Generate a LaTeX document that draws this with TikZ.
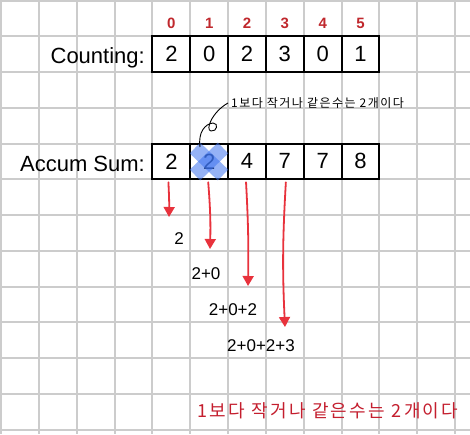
\documentclass[tikz,border=0pt]{standalone}
\usepackage{fontspec}
\setmainfont{Liberation Sans}
\newfontfamily\kor{Noto Sans CJK KR}
\usetikzlibrary{arrows.meta}
\definecolor{gridc}{HTML}{CCCCCC}
\definecolor{idxc}{HTML}{C0282D}
\definecolor{arrc}{HTML}{E8323C}
\definecolor{markc}{HTML}{3E74F0}
\definecolor{notec}{HTML}{C41E2E}
\def\cw{37.82}
\def\ch{35.75}
\def\xo{171.4}
\tikzset{
  cell/.style={draw,line width=2pt,minimum width=\cw pt,minimum height=\ch pt,
    inner sep=0pt,font=\fontsize{22}{26}\selectfont},
  rowlab/.style={anchor=base east,inner sep=0pt,font=\fontsize{22}{26}\selectfont},
  idx/.style={idxc,inner sep=0pt,font=\fontsize{15}{18}\selectfont\bfseries},
  sumtx/.style={inner sep=0pt,font=\fontsize{17}{20}\selectfont},
  redarr/.style={arrc,line width=1.8pt,line cap=round,-{Triangle[length=10pt,width=11pt]}},
}

\begin{document}
\begin{tikzpicture}[x=1pt,y=-1pt]
\useasboundingbox (0,0) rectangle (470,434);
\fill[white] (0,0) rectangle (470,434);

% ---------------------------------------------------------------- paper grid
\foreach \k in {0,...,12}
  {\draw[gridc,line width=2pt] ({1.2+\cw*\k},0) -- ({1.2+\cw*\k},434);}
\foreach \k in {0,...,12}
  {\draw[gridc,line width=2pt] (0,{0.5+\ch*\k}) -- (470,{0.5+\ch*\k});}

% ---------------------------------------------------------------- counting row
\foreach \v [count=\i from 0] in {2,0,2,3,0,1}
  {\node[cell] (c\i) at ({\xo+\cw*\i},54.1) {\v};
   \node[idx] (n\i) at ({\xo+\cw*\i},23) {\i};}
\node[rowlab] (lc) at (145,63.5) {Counting:};

% ---------------------------------------------------------------- accumulated sums
\foreach \v [count=\i from 0] in {2,2,4,7,7,8}
  {\node[cell] (a\i) at ({\xo+\cw*\i},161.4) {\v};}
\node[rowlab] (la) at (145,171) {Accum Sum:};

% marker on the second cell
\draw[markc,opacity=0.55,line width=15pt] (195,148) -- (223,175);
\draw[markc,opacity=0.55,line width=15pt] (223,148) -- (195,175);

% ---------------------------------------------------------------- handwritten note
\node[anchor=west,inner sep=0pt,font=\kor\addfontfeature{LetterSpace=12}\fontsize{12}{14}\selectfont] (note) at (231,103) {1보다 작거나 같은수는 2개이다};
\coordinate (cs) at (200,147);
\draw[black,line width=0.9pt] (cs) .. controls (198,132) and (205,124) .. (213,123)
  .. controls (219,123) and (217,132) .. (211,131)
  .. controls (205,130) and (212,112) .. ([xshift=-3pt]note.west);

% ---------------------------------------------------------------- partial sums
\node[sumtx] (s0) at (179,239) {2};
\node[sumtx] (s1) at (206,274) {2+0};
\node[sumtx] (s2) at (233,310) {2+0+2};
\node[sumtx] (s3) at (261,346) {2+0+2+3};
\coordinate (t0) at (169,217);
\coordinate (t1) at (210,249);
\coordinate (t2) at (248,286);
\coordinate (t3) at (285,327);
\draw[redarr] ([xshift=-3pt,yshift=-2pt]a0.south) to[bend left=2] (t0);
\draw[redarr] ([xshift=-1pt,yshift=-2pt]a1.south) to[bend left=3] (t1);
\draw[redarr] ([xshift=-1pt,yshift=-2pt]a2.south) to[bend left=2] (t2);
\draw[redarr] ([xshift=1pt,yshift=-2pt]a3.south) to[bend right=3] (t3);

% ---------------------------------------------------------------- message
\node[notec,anchor=west,inner sep=0pt,font=\kor\addfontfeature{LetterSpace=13}\fontsize{18}{22}\selectfont] (msg) at (197,411) {1보다 작거나 같은수는 2개이다};

\end{tikzpicture}
\end{document}
